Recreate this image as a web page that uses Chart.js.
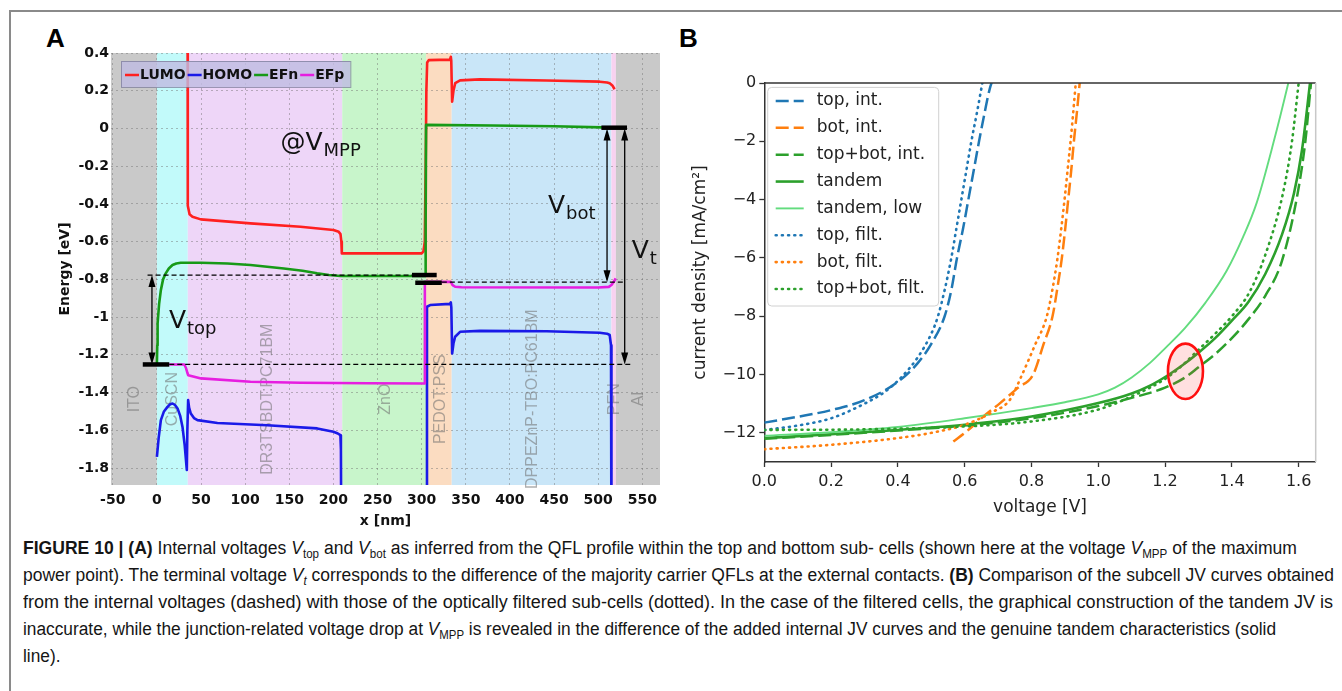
<!DOCTYPE html>
<html>
<head>
<meta charset="utf-8">
<script src="https://cdn.jsdelivr.net/npm/chart.js@4.4.1/dist/chart.umd.min.js"></script>
<style>
  html, body { margin: 0; padding: 0; background: #fff; }
  body { width: 1342px; height: 691px; position: relative; overflow: hidden; }
  #frame { position: absolute; left: 9px; top: 10px; width: 1400px; height: 800px; border-left: 2px solid #8a8a8a; border-top: 2px solid #8a8a8a; }
  canvas { position: absolute; top: 0; }
  #cA { left: 0; }
  #cB { left: 670px; }
  .tag { position: absolute; font: bold 26px "Liberation Sans", Arial, sans-serif; line-height: 26px; color: #000; }
  .cap { position: absolute; left: 23px; white-space: nowrap; font: 18px "Liberation Sans", Arial, sans-serif; line-height: 20px; color: #151515; transform-origin: 0 50%; }
  .cap sub { font-size: 0.66em; vertical-align: -0.3em; line-height: 0; }
</style>
</head>
<body>
<div id="frame"></div>
<div class="tag" style="left:46px;top:25px">A</div>
<div class="tag" style="left:679px;top:25px">B</div>
<canvas id="cA" width="670" height="530"></canvas>
<canvas id="cB" width="672" height="530"></canvas>

<div class="cap" style="top:538px"><b>FIGURE 10 | (A)</b> Internal voltages <i>V</i><sub>top</sub> and <i>V</i><sub>bot</sub> as inferred from the QFL profile within the top and bottom sub- cells (shown here at the voltage <i>V</i><sub>MPP</sub> of the maximum</div>
<div class="cap" style="top:565px">power point). The terminal voltage <i>V<sub>t</sub></i> corresponds to the difference of the majority carrier QFLs at the external contacts. <b>(B)</b> Comparison of the subcell JV curves obtained</div>
<div class="cap" style="top:592px">from the internal voltages (dashed) with those of the optically filtered sub-cells (dotted). In the case of the filtered cells, the graphical construction of the tandem JV is</div>
<div class="cap" style="top:619px">inaccurate, while the junction-related voltage drop at <i>V</i><sub>MPP</sub> is revealed in the difference of the added internal JV curves and the genuine tandem characteristics (solid</div>
<div class="cap" style="top:646px">line).</div>

<script>
// ---------- panel A: band diagram at V_MPP (x in nm, energy in eV) ----------
const layerNames = ['ITO', 'CuSCN', 'DR3TSBDT:PC71BM', 'ZnO', 'PEDOT:PSS', 'DPPEZnP-TBO:PC61BM', 'PFN', 'Al'];
const layerEdges = [-52, 0, 35, 210, 305, 334, 515, 520, 570];
const layerColors = ['#c9c9c9', '#c2fafa', '#eed6f8', '#c8f5cb', '#fbdcc1', '#c9e6f8', '#f8d2f0', '#c9c9c9'];
const layerLabelX = [-25.6, 17.7, 125, 258.8, 321, 426, 518.6, 546];
const layerLabelY = -1.435;

const xTicksA = [-50, 0, 50, 100, 150, 200, 250, 300, 350, 400, 450, 500, 550];
const yTicksA = [0.4, 0.2, 0, -0.2, -0.4, -0.6, -0.8, -1, -1.2, -1.4, -1.6, -1.8];

const lumo = [[34.7, 0.9], [34.8, -0.3], [35.2, -0.41], [37, -0.455], [40.3, -0.468], [49.7, -0.482], [106, -0.503],
  [162.7, -0.521], [200, -0.538], [206, -0.548], [208, -0.56], [209, -0.6], [209.5, -0.662], [300, -0.662],
  [302, -0.652], [303.5, -0.6], [304.5, -0.2], [305.3, 0.2], [306.2, 0.35], [308, 0.362], [332, 0.365],
  [333, 0.38], [333.5, 0.36], [334.5, 0.142], [336, 0.2], [338, 0.24], [343.5, 0.255], [366, 0.26],
  [441.5, 0.254], [501.7, 0.248], [510, 0.244], [513, 0.24], [516, 0.228], [518.6, 0.208]];
const homo = [[0, -1.741], [2, -1.64], [4.5, -1.546], [8, -1.5], [12, -1.476], [15, -1.462], [17.7, -1.458],
  [20.5, -1.466], [23.4, -1.484], [26.5, -1.525], [29, -1.582], [31.5, -1.68], [33.9, -1.81], [34.5, -1.6],
  [35.4, -1.44], [36.5, -1.48], [38.4, -1.511], [42, -1.535], [46, -1.546], [68.6, -1.561], [125, -1.573],
  [181.6, -1.59], [200, -1.608], [205, -1.617], [207.9, -1.626], [208.5, -1.7], [209, -2.3], [305.5, -2.3],
  [306, -0.945], [309.6, -0.936], [332, -0.93], [333, -0.922], [333.6, -0.95], [334.5, -1.193], [336, -1.14],
  [337.9, -1.104], [343.5, -1.078], [366, -1.073], [441.5, -1.075], [501.7, -1.083], [510, -1.088],
  [513, -1.095], [514.5, -1.15], [515, -2.3]];
const efn = [[0, -1.25], [0.4, -1.15], [0.8, -1.033], [2.5, -0.93], [4.5, -0.857], [7, -0.8], [10, -0.768],
  [13.5, -0.742], [17.7, -0.724], [22, -0.716], [27, -0.712], [50, -0.712], [80, -0.716], [106, -0.724],
  [143.9, -0.742], [165, -0.754], [181.5, -0.768], [195, -0.777], [208, -0.782], [240, -0.782],
  [303.8, -0.782], [304.5, -0.5], [305, 0.019], [380, 0.016], [450, 0.012], [503.6, 0.006], [512, 0.004]];
const efp = [[14, -1.251], [31, -1.251], [33, -1.27], [34.5, -1.295], [35.5, -1.308], [50, -1.325], [106, -1.343],
  [163, -1.348], [240, -1.351], [303, -1.352], [303.6, -0.813], [333, -0.813], [335, -0.83], [338, -0.839],
  [345, -0.842], [500, -0.843], [512, -0.84], [515, -0.83], [518, -0.81], [519.8, -0.795]];

// reference levels (dashed) and contact markers (thick bars)
const dashTop = [[-10.6, -0.777], [295, -0.777]];
const dashBase = [[14, -1.251], [537.5, -1.251]];
const dashBot = [[322.8, -0.815], [531, -0.815]];
const barBase = [[-16, -1.251], [14, -1.251]];
const barMid1 = [[289, -0.777], [317, -0.777]];
const barMid2 = [[292.7, -0.818], [322.8, -0.818]];
const barTop = [[503.6, 0.004], [532.6, 0.004]];
// double arrows: x, from, to
const arrows = [[-5.6, -0.777, -1.251], [510, 0.0, -0.815], [530, 0.0, -1.251]];

// ---------- panel B: JV curves (V, mA/cm2) ----------
const xTicksB = [0, 0.2, 0.4, 0.6, 0.8, 1.0, 1.2, 1.4, 1.6];
const yTicksB = [0, -2, -4, -6, -8, -10, -12];

const topInt = [[0, -11.65], [0.1, -11.45], [0.2, -11.22], [0.3, -10.88], [0.4, -10.25], [0.46, -9.6],
  [0.5, -8.95], [0.54, -8.0], [0.56, -7.1], [0.577, -6.0], [0.595, -5.0], [0.611, -4.0], [0.627, -3.0],
  [0.643, -2.0], [0.66, -1.0], [0.675, -0.2], [0.69, 0.3]];
const botInt = [[0.566, -12.3], [0.606, -11.95], [0.656, -11.44], [0.706, -10.98], [0.76, -10.45],
  [0.805, -10.0], [0.835, -9.0], [0.863, -8.0], [0.878, -7.0], [0.891, -6.0], [0.901, -5.0], [0.91, -4.0],
  [0.919, -3.0], [0.927, -2.0], [0.936, -1.0], [0.946, 0.2]];
const sumInt = [[0, -12.2], [0.2, -12.07], [0.4, -11.92], [0.6, -11.75], [0.8, -11.5], [1.0, -11.08],
  [1.1, -10.8], [1.2, -10.45], [1.26, -10.1], [1.3, -9.75], [1.35, -9.3], [1.4, -8.75], [1.45, -8.1],
  [1.5, -7.3], [1.55, -6.1], [1.597, -3.78], [1.62, -2.0], [1.637, 0], [1.64, 0.3]];
const tandem = [[0, -12.18], [0.2, -12.05], [0.4, -11.9], [0.6, -11.72], [0.8, -11.44], [1.0, -10.98],
  [1.1, -10.65], [1.155, -10.38], [1.205, -10.05], [1.25, -9.7], [1.3, -9.25], [1.35, -8.75], [1.4, -8.15],
  [1.45, -7.5], [1.5, -6.55], [1.55, -5.2], [1.586, -3.78], [1.61, -2.3], [1.634, 0], [1.637, 0.3]];
const tandemLow = [[0, -12.1], [0.2, -11.98], [0.4, -11.8], [0.6, -11.5], [0.8, -11.15], [0.9, -10.95],
  [1.0, -10.68], [1.05, -10.45], [1.1, -10.1], [1.155, -9.6], [1.2, -9.1], [1.26, -8.4], [1.32, -7.55],
  [1.384, -6.45], [1.434, -5.27], [1.474, -4.12], [1.524, -2.07], [1.569, 0], [1.575, 0.3]];
const topFilt = [[0, -11.9], [0.1, -11.75], [0.2, -11.5], [0.3, -11.0], [0.36, -10.6], [0.41, -10.1],
  [0.46, -9.4], [0.5, -8.6], [0.52, -8.0], [0.54, -7.1], [0.56, -6.0], [0.575, -5.0], [0.59, -4.0],
  [0.605, -3.0], [0.62, -2.0], [0.637, -1.0], [0.656, 0.2]];
const botFilt = [[0, -12.56], [0.2, -12.41], [0.4, -12.18], [0.5, -12.0], [0.6, -11.72], [0.686, -11.27],
  [0.735, -10.87], [0.772, -10.0], [0.81, -9.0], [0.846, -8.0], [0.864, -7.0], [0.878, -6.0], [0.889, -5.0],
  [0.899, -4.0], [0.908, -3.0], [0.917, -2.0], [0.925, -1.0], [0.934, 0.2]];
const sumFilt = [[0, -11.9], [0.3, -11.88], [0.6, -11.78], [0.8, -11.61], [1.0, -11.2], [1.1, -10.75],
  [1.2, -10.15], [1.25, -9.7], [1.3, -9.15], [1.35, -8.6], [1.4, -8.0], [1.451, -7.21], [1.5, -5.9],
  [1.553, -3.78], [1.58, -2.0], [1.6, 0], [1.603, 0.3]];

// highlighted MPP region (centre V, centre J, half-width V, half-height J)
const mppMark = [1.261, -9.89, 0.0524, 0.95];

const pts = a => a.map(p => ({x: p[0], y: p[1]}));

// ---------- panel A plugins ----------
const bandsPlugin = {
  id: 'bands',
  beforeDraw(chart) {
    const {ctx, chartArea: a, scales: {x}} = chart;
    ctx.save();
    for (let i = 0; i < layerNames.length; i++) {
      const x1 = Math.max(a.left, x.getPixelForValue(layerEdges[i]));
      const x2 = Math.min(a.right, x.getPixelForValue(layerEdges[i + 1]));
      ctx.fillStyle = layerColors[i];
      ctx.fillRect(x1, a.top, x2 - x1, a.bottom - a.top);
    }
    ctx.restore();
  },
  beforeDatasetsDraw(chart) {
    const {ctx, scales: {x, y}} = chart;
    ctx.save();
    ctx.fillStyle = 'rgba(110,110,110,0.55)';
    ctx.font = '16px "Liberation Sans", Arial, sans-serif';
    ctx.textAlign = 'center';
    ctx.textBaseline = 'middle';
    layerNames.forEach((n, i) => {
      ctx.save();
      ctx.translate(x.getPixelForValue(layerLabelX[i]), y.getPixelForValue(layerLabelY));
      ctx.rotate(-Math.PI / 2);
      ctx.fillText(n, 0, 0);
      ctx.restore();
    });
    ctx.restore();
  }
};

function subText(ctx, px, py, main, sub, size, subSize) {
  ctx.font = size + 'px "DejaVu Sans", sans-serif';
  ctx.fillText(main, px, py);
  const w = ctx.measureText(main).width;
  ctx.font = subSize + 'px "DejaVu Sans", sans-serif';
  ctx.fillText(sub, px + w + 1, py + subSize * 0.35);
}

const annotPlugin = {
  id: 'annot',
  afterDatasetsDraw(chart) {
    const {ctx, scales: {x, y}, chartArea: a} = chart;
    ctx.save();
    // arrows
    ctx.strokeStyle = '#000';
    ctx.fillStyle = '#000';
    ctx.lineWidth = 1.3;
    arrows.forEach(([ax, y1, y2]) => {
      const px = x.getPixelForValue(ax), p1 = y.getPixelForValue(y1), p2 = y.getPixelForValue(y2);
      ctx.beginPath(); ctx.moveTo(px, p1 + 9); ctx.lineTo(px, p2 - 9); ctx.stroke();
      [[p1, 1], [p2, -1]].forEach(([py, d]) => {
        ctx.beginPath();
        ctx.moveTo(px, py);
        ctx.lineTo(px - 3.5, py + d * 12);
        ctx.lineTo(px + 3.5, py + d * 12);
        ctx.closePath(); ctx.fill();
      });
    });
    // labels
    ctx.fillStyle = '#111';
    ctx.textBaseline = 'alphabetic';
    ctx.textAlign = 'left';
    subText(ctx, x.getPixelForValue(140), y.getPixelForValue(-0.114), '@V', 'MPP', 25, 18);
    subText(ctx, x.getPixelForValue(13.6), y.getPixelForValue(-1.058), 'V', 'top', 25, 18);
    subText(ctx, x.getPixelForValue(443), y.getPixelForValue(-0.448), 'V', 'bot', 25, 18);
    subText(ctx, x.getPixelForValue(538), y.getPixelForValue(-0.687), 'V', 't', 25, 18);

    // legend
    const lx = a.left + 10, ly = a.top + 8;
    ctx.font = 'bold 14px "DejaVu Sans", sans-serif';
    let w = 8;
    const items = chart.data.datasets.slice(0, 4);
    items.forEach(d => { w += 16 + ctx.measureText(d.label).width + 1; });
    ctx.fillStyle = 'rgba(192,188,226,0.82)';
    ctx.strokeStyle = 'rgba(120,120,150,0.7)';
    ctx.lineWidth = 1;
    ctx.fillRect(lx, ly, w, 26);
    ctx.strokeRect(lx + 0.5, ly + 0.5, w, 26);
    let cx = lx + 4;
    const cy = ly + 14;
    ctx.textBaseline = 'middle';
    items.forEach(d => {
      ctx.strokeStyle = d.borderColor;
      ctx.lineWidth = 2.5;
      ctx.beginPath(); ctx.moveTo(cx, cy); ctx.lineTo(cx + 14, cy); ctx.stroke();
      ctx.fillStyle = '#111';
      ctx.fillText(d.label, cx + 15, cy);
      cx += 16 + ctx.measureText(d.label).width + 1;
    });
    ctx.restore();
  }
};

const fontA = {family: '"DejaVu Sans", sans-serif', weight: 'bold', size: 14};
const curve = (label, data, color) => ({label, data: pts(data), borderColor: color, borderWidth: 2.6,
  pointRadius: 0, tension: 0, borderJoinStyle: 'round'});
const refLine = (data, w, dash) => ({label: '', data: pts(data), borderColor: '#000', borderWidth: w,
  borderDash: dash, pointRadius: 0, tension: 0});

const setA = [
  curve('LUMO', lumo, '#ff2020'),
  curve('HOMO', homo, '#1a1ae8'),
  curve('EFn', efn, '#179a17'),
  curve('EFp', efp, '#e61ee0'),
  refLine(dashTop, 1.3, [5, 3]),
  refLine(dashBase, 1.3, [5, 3]),
  refLine(dashBot, 1.3, [5, 3]),
  refLine(barBase, 4.5, []),
  refLine(barMid1, 4.5, []),
  refLine(barMid2, 4.5, []),
  refLine(barTop, 4.5, [])
];
setA.forEach((d, i) => { d.order = -i; });

new Chart(document.getElementById('cA'), {
  type: 'line',
  data: {datasets: setA},
  options: {
    responsive: false,
    animation: false,
    layout: {padding: {left: 57, top: 53, right: 10, bottom: 0}},
    plugins: {legend: {display: false}, tooltip: {enabled: false}},
    scales: {
      x: {
        type: 'linear', min: -52, max: 570,
        afterBuildTicks: s => { s.ticks = xTicksA.map(v => ({value: v})); },
        afterFit: s => { s.height = 45; },
        grid: {color: 'rgba(110,110,110,0.45)', lineWidth: 1, drawTicks: false},
        border: {display: false, dash: [2, 3]},
        ticks: {color: '#111', font: fontA, padding: 7, maxRotation: 0, autoSkip: false},
        title: {display: true, text: 'x [nm]', color: '#111', font: fontA, padding: {top: 0, bottom: 0}}
      },
      y: {
        type: 'linear', min: -1.89, max: 0.4,
        afterBuildTicks: s => { s.ticks = yTicksA.map(v => ({value: v})); },
        afterFit: s => { s.width = 54; },
        grid: {color: 'rgba(110,110,110,0.45)', lineWidth: 1, drawTicks: false},
        border: {display: false, dash: [2, 3]},
        ticks: {color: '#111', font: fontA, padding: 2, autoSkip: false,
          callback: v => String(Math.round(v * 10) / 10)},
        title: {display: true, text: 'Energy [eV]', color: '#111', font: fontA, padding: {top: 0, bottom: 0}}
      }
    }
  },
  plugins: [bandsPlugin, annotPlugin]
});

// ---------- panel B ----------
const C0 = '#1f77b4', C1 = '#ff7f0e', C2 = '#2ca02c';
const DASH = [13, 5], DOT = [1, 5.2];
const jv = (label, data, color, dash, w) => ({label, data: pts(data), borderColor: color, borderWidth: w,
  borderDash: dash, borderCapStyle: dash === DOT ? 'round' : 'butt', pointRadius: 0,
  cubicInterpolationMode: 'monotone'});

const setB = [
  jv('top, int.', topInt, C0, DASH, 2.5),
  jv('bot, int.', botInt, C1, DASH, 2.5),
  jv('top+bot, int.', sumInt, C2, DASH, 2.5),
  jv('tandem', tandem, C2, [], 2.6),
  jv('tandem, low', tandemLow, '#63dc7e', [], 1.9),
  jv('top, filt.', topFilt, C0, DOT, 2.6),
  jv('bot, filt.', botFilt, C1, DOT, 2.6),
  jv('top+bot, filt.', sumFilt, C2, DOT, 2.6)
];
setB.forEach((d, i) => { d.order = -i; });

const jvPlugin = {
  id: 'jvExtras',
  afterDatasetsDraw(chart) {
    const {ctx, chartArea: a, scales: {x, y}} = chart;
    ctx.save();
    // MPP ellipse
    const cx = x.getPixelForValue(mppMark[0]), cy = y.getPixelForValue(mppMark[1]);
    const rx = x.getPixelForValue(mppMark[0] + mppMark[2]) - cx;
    const ry = cy - y.getPixelForValue(mppMark[1] + mppMark[3]);
    ctx.beginPath();
    ctx.ellipse(cx, cy, rx, ry, 0, 0, Math.PI * 2);
    ctx.fillStyle = 'rgba(255,60,60,0.16)';
    ctx.fill();
    ctx.strokeStyle = '#ff1010';
    ctx.lineWidth = 2.6;
    ctx.stroke();
    // top and right spines
    ctx.lineWidth = 1.5;
    ctx.strokeStyle = '#333';
    ctx.beginPath(); ctx.moveTo(a.left, a.top); ctx.lineTo(a.right, a.top); ctx.stroke();
    ctx.strokeStyle = '#c8c8c8';
    ctx.beginPath(); ctx.moveTo(a.right, a.top); ctx.lineTo(a.right, a.bottom); ctx.stroke();
    // legend
    const lx = a.left + 3.4, ly = a.top + 4.4, lw = 171, lh = 218.6, r = 4;
    ctx.beginPath();
    ctx.roundRect(lx, ly, lw, lh, r);
    ctx.fillStyle = 'rgba(255,255,255,0.85)';
    ctx.fill();
    ctx.strokeStyle = '#d0d0d0';
    ctx.lineWidth = 1;
    ctx.stroke();
    ctx.font = '17px "DejaVu Sans", sans-serif';
    ctx.textBaseline = 'middle';
    ctx.fillStyle = '#222';
    chart.data.datasets.forEach((d, i) => {
      const ey = ly + 13.6 + i * 26.85;
      ctx.strokeStyle = d.borderColor;
      ctx.lineWidth = d.borderWidth;
      ctx.setLineDash(d.borderDash);
      ctx.lineCap = d.borderCapStyle;
      ctx.beginPath(); ctx.moveTo(lx + 8, ey); ctx.lineTo(lx + 36, ey); ctx.stroke();
      ctx.setLineDash([]);
      ctx.fillText(d.label, lx + 49, ey);
    });
    ctx.restore();
  }
};

const tickFontB = {family: '"DejaVu Sans", sans-serif', size: 16};
const titleFontB = {family: '"DejaVu Sans", sans-serif', size: 17};

new Chart(document.getElementById('cB'), {
  type: 'line',
  data: {datasets: setB},
  options: {
    responsive: false,
    animation: false,
    layout: {padding: {left: 20, top: 83, right: 26.3, bottom: 0}},
    plugins: {legend: {display: false}, tooltip: {enabled: false}},
    scales: {
      x: {
        type: 'linear', min: 0, max: 1.651,
        afterBuildTicks: s => { s.ticks = xTicksB.map(v => ({value: v})); },
        afterFit: s => { s.height = 68; },
        grid: {drawOnChartArea: false, drawTicks: true, tickLength: 5, tickColor: '#333', tickWidth: 1.3},
        border: {display: true, color: '#333', width: 1.5},
        ticks: {color: '#222', font: tickFontB, padding: 5, maxRotation: 0, autoSkip: false,
          callback: v => v.toFixed(1)},
        title: {display: true, text: 'voltage [V]', color: '#222', font: titleFontB, padding: {top: 0, bottom: 12}}
      },
      y: {
        type: 'linear', min: -13, max: 0,
        afterBuildTicks: s => { s.ticks = yTicksB.map(v => ({value: v})); },
        afterFit: s => { s.width = 74.3; },
        grid: {drawOnChartArea: false, drawTicks: true, tickLength: 5, tickColor: '#333', tickWidth: 1.3},
        border: {display: true, color: '#333', width: 1.5},
        ticks: {color: '#222', font: tickFontB, padding: 3, autoSkip: false,
          callback: v => (v < 0 ? '\u2212' + Math.abs(v) : String(v))},
        title: {display: true, text: 'current density [mA/cm\u00b2]', color: '#222', font: titleFontB, padding: {top: 0, bottom: 0}}
      }
    }
  },
  plugins: [jvPlugin]
});

// ---------- caption: fit each line to the column width ----------
const capTargets = [1274, 1311, 1310, 1253];
let lastScale = 1;
document.querySelectorAll('.cap').forEach((el, i) => {
  const w = el.getBoundingClientRect().width;
  const s = i < capTargets.length ? capTargets[i] / w : lastScale;
  lastScale = s;
  el.style.transform = 'scaleX(' + s.toFixed(4) + ')';
});
</script>
</body>
</html>
